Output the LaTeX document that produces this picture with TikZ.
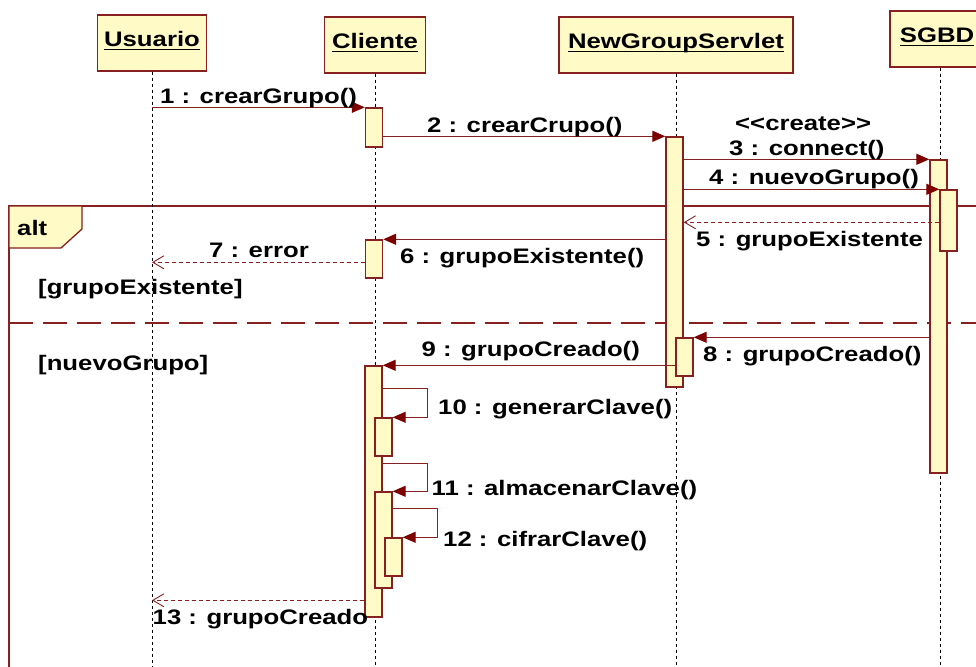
\documentclass[tikz,border=0pt]{standalone}
\usepackage{fontspec}
\setmainfont{Liberation Sans}[FakeStretch=1.225]
\usetikzlibrary{arrows.meta}
\definecolor{umlline}{RGB}{135,32,32}
\definecolor{umlfill}{RGB}{255,250,198}
\definecolor{tipred}{RGB}{125,0,0}
% object name with a fixed-offset underline
\newcommand\titleul[1]{\setbox0\hbox{#1}\rlap{\rule[-3.5pt]{\wd0}{1.6pt}}\box0}
\begin{document}
\begin{tikzpicture}[x=1pt,y=-1pt,
  every node/.style={font=\fontsize{21}{25}\selectfont\bfseries},
  objbox/.style={draw=umlline, fill=umlfill, line width=1.5pt, minimum height=56pt,
                 inner sep=0pt, text height=15pt, text depth=7pt},
  bar/.style={draw=umlline, fill=umlfill, line width=1.4pt, minimum width=17pt, inner sep=0pt},
  call/.style={draw=umlline, line width=1.3pt,
               -{Triangle[length=13pt,width=11pt,color=tipred]}},
  ret/.style={draw=umlline, line width=1.1pt, dash pattern=on 4pt off 3pt,
              -{Straight Barb[length=11pt,width=13pt,line width=0.9pt]}},
  lifeline/.style={draw=black, line width=1pt, dash pattern=on 3.5pt off 2.5pt},
  frame/.style={draw=umlline, line width=1.3pt},
  divider/.style={draw=umlline, line width=1.3pt, dash pattern=on 24pt off 10pt},
  lbl/.style={anchor=base west, inner sep=0pt}]

\path[use as bounding box, fill=white] (0,0) rectangle (976,666);
\clip (0,0) rectangle (976,666);
\coordinate (bot) at (0,680);

% combined fragment "alt"
\draw[frame] (9,690) -- (9,206) -- (990,206);
\draw[divider] (9,323) -- (990,323);
\draw[frame, fill=umlfill] (9,206) -- (82,206) -- (82,229) -- (61,248) -- (9,248) -- cycle;
\node[lbl] (alt) at (17,235.5) {alt};
\node[lbl] (g1) at (38,294) {[grupoExistente]};
\node[lbl] (g2) at (38,370.5) {[nuevoGrupo]};

% objects
\node[objbox, minimum width=109pt] (usr) at (152,43) {\titleul{Usuario}};
\node[objbox, minimum width=101pt] (cli) at (375,45) {\titleul{Cliente}};
\node[objbox, minimum width=234pt] (srv) at (676,45) {\titleul{NewGroupServlet}};
\node[objbox, minimum width=100pt] (sgbd) at (940,39) {};
\node[inner sep=0pt, text height=15pt, text depth=7pt] (sgbdname) at (937,39) {\titleul{SGBD}};

% lifelines
\foreach \o in {usr,cli,srv,sgbd}
  \draw[lifeline] (\o.south) -- (\o.south |- bot);

% activation bars
\node[bar, minimum height=39pt]  (cb1)  at (374,127.5) {};
\node[bar, minimum height=250pt] (sb)   at (674.5,262) {};
\node[bar, minimum height=38pt]  (sb2)  at (684.5,357) {};
\node[bar, minimum height=313pt] (dbb)  at (938.5,316.5) {};
\node[bar, minimum height=61pt]  (dbb2) at (948.5,220.5) {};
\node[bar, minimum height=38pt]  (cb2)  at (374,259) {};
\node[bar, minimum height=251pt] (cb3)  at (373.5,491.5) {};
\node[bar, minimum height=38pt]  (cb4)  at (383.5,437) {};
\node[bar, minimum height=96pt]  (cb5)  at (383.5,540) {};
\node[bar, minimum height=38pt]  (cb6)  at (393.5,557) {};

% messages
\draw[call] (usr.south |- cb1.north) -- (cb1.north west);
\draw[call] (cb1.east |- sb.north) -- (sb.north west);
\draw[call] (sb.east |- dbb.north) -- (dbb.north west);
\draw[call] (sb.east |- dbb2.north) -- (dbb2.north west);
\coordinate (r5) at ([yshift=-33pt]dbb2.north west);
\draw[ret] (r5) -- (sb.east |- r5);
\draw[call] (sb.west |- cb2.north) -- (cb2.north east);
\coordinate (r7) at ([yshift=-23pt]cb2.north west);
\draw[ret] (r7) -- (usr.south |- r7);
\draw[call] (dbb.west |- sb2.north) -- (sb2.north east);
\draw[call] (sb2.west |- cb3.north) -- (cb3.north east);
\draw[call] ([yshift=-23pt]cb3.north east) -- ++(45,0) |- (cb4.north east);
\draw[call] ([yshift=-98pt]cb3.north east) -- ++(45,0) |- (cb5.north east);
\draw[call] ([yshift=-17pt]cb5.north east) -- ++(45,0) |- (cb6.north east);
\coordinate (r13) at ([yshift=-235pt]cb3.north west);
\draw[ret] (r13) -- (usr.south |- r13);

% message labels
\node[lbl] (m1)  at (160,103)    {1 : crearGrupo()};
\node[lbl] (m2)  at (427,132)    {2 : crearCrupo()};
\node[lbl] (st)  at (735,131)    {<\kern0pt<create>\kern0pt>};
\node[lbl] (m3)  at (729,155)    {3 : connect()};
\node[lbl] (m4)  at (709,184)    {4 : nuevoGrupo()};
\node[lbl] (m5)  at (696,246)    {5 : grupoExistente};
\node[lbl] (m6)  at (400,263)    {6 : grupoExistente()};
\node[lbl] (m7)  at (209,257.5)  {7 : error};
\node[lbl] (m8)  at (703,361)    {8 : grupoCreado()};
\node[lbl] (m9)  at (421.5,356.5){9 : grupoCreado()};
\node[lbl] (m10) at (438,414)    {10 : generarClave()};
\node[lbl] (m11) at (431.5,495)  {11 : almacenarClave()};
\node[lbl] (m12) at (443,546)    {12 : cifrarClave()};
\node[lbl] (m13) at (152.5,624)  {13 : grupoCreado};
\end{tikzpicture}
\end{document}
